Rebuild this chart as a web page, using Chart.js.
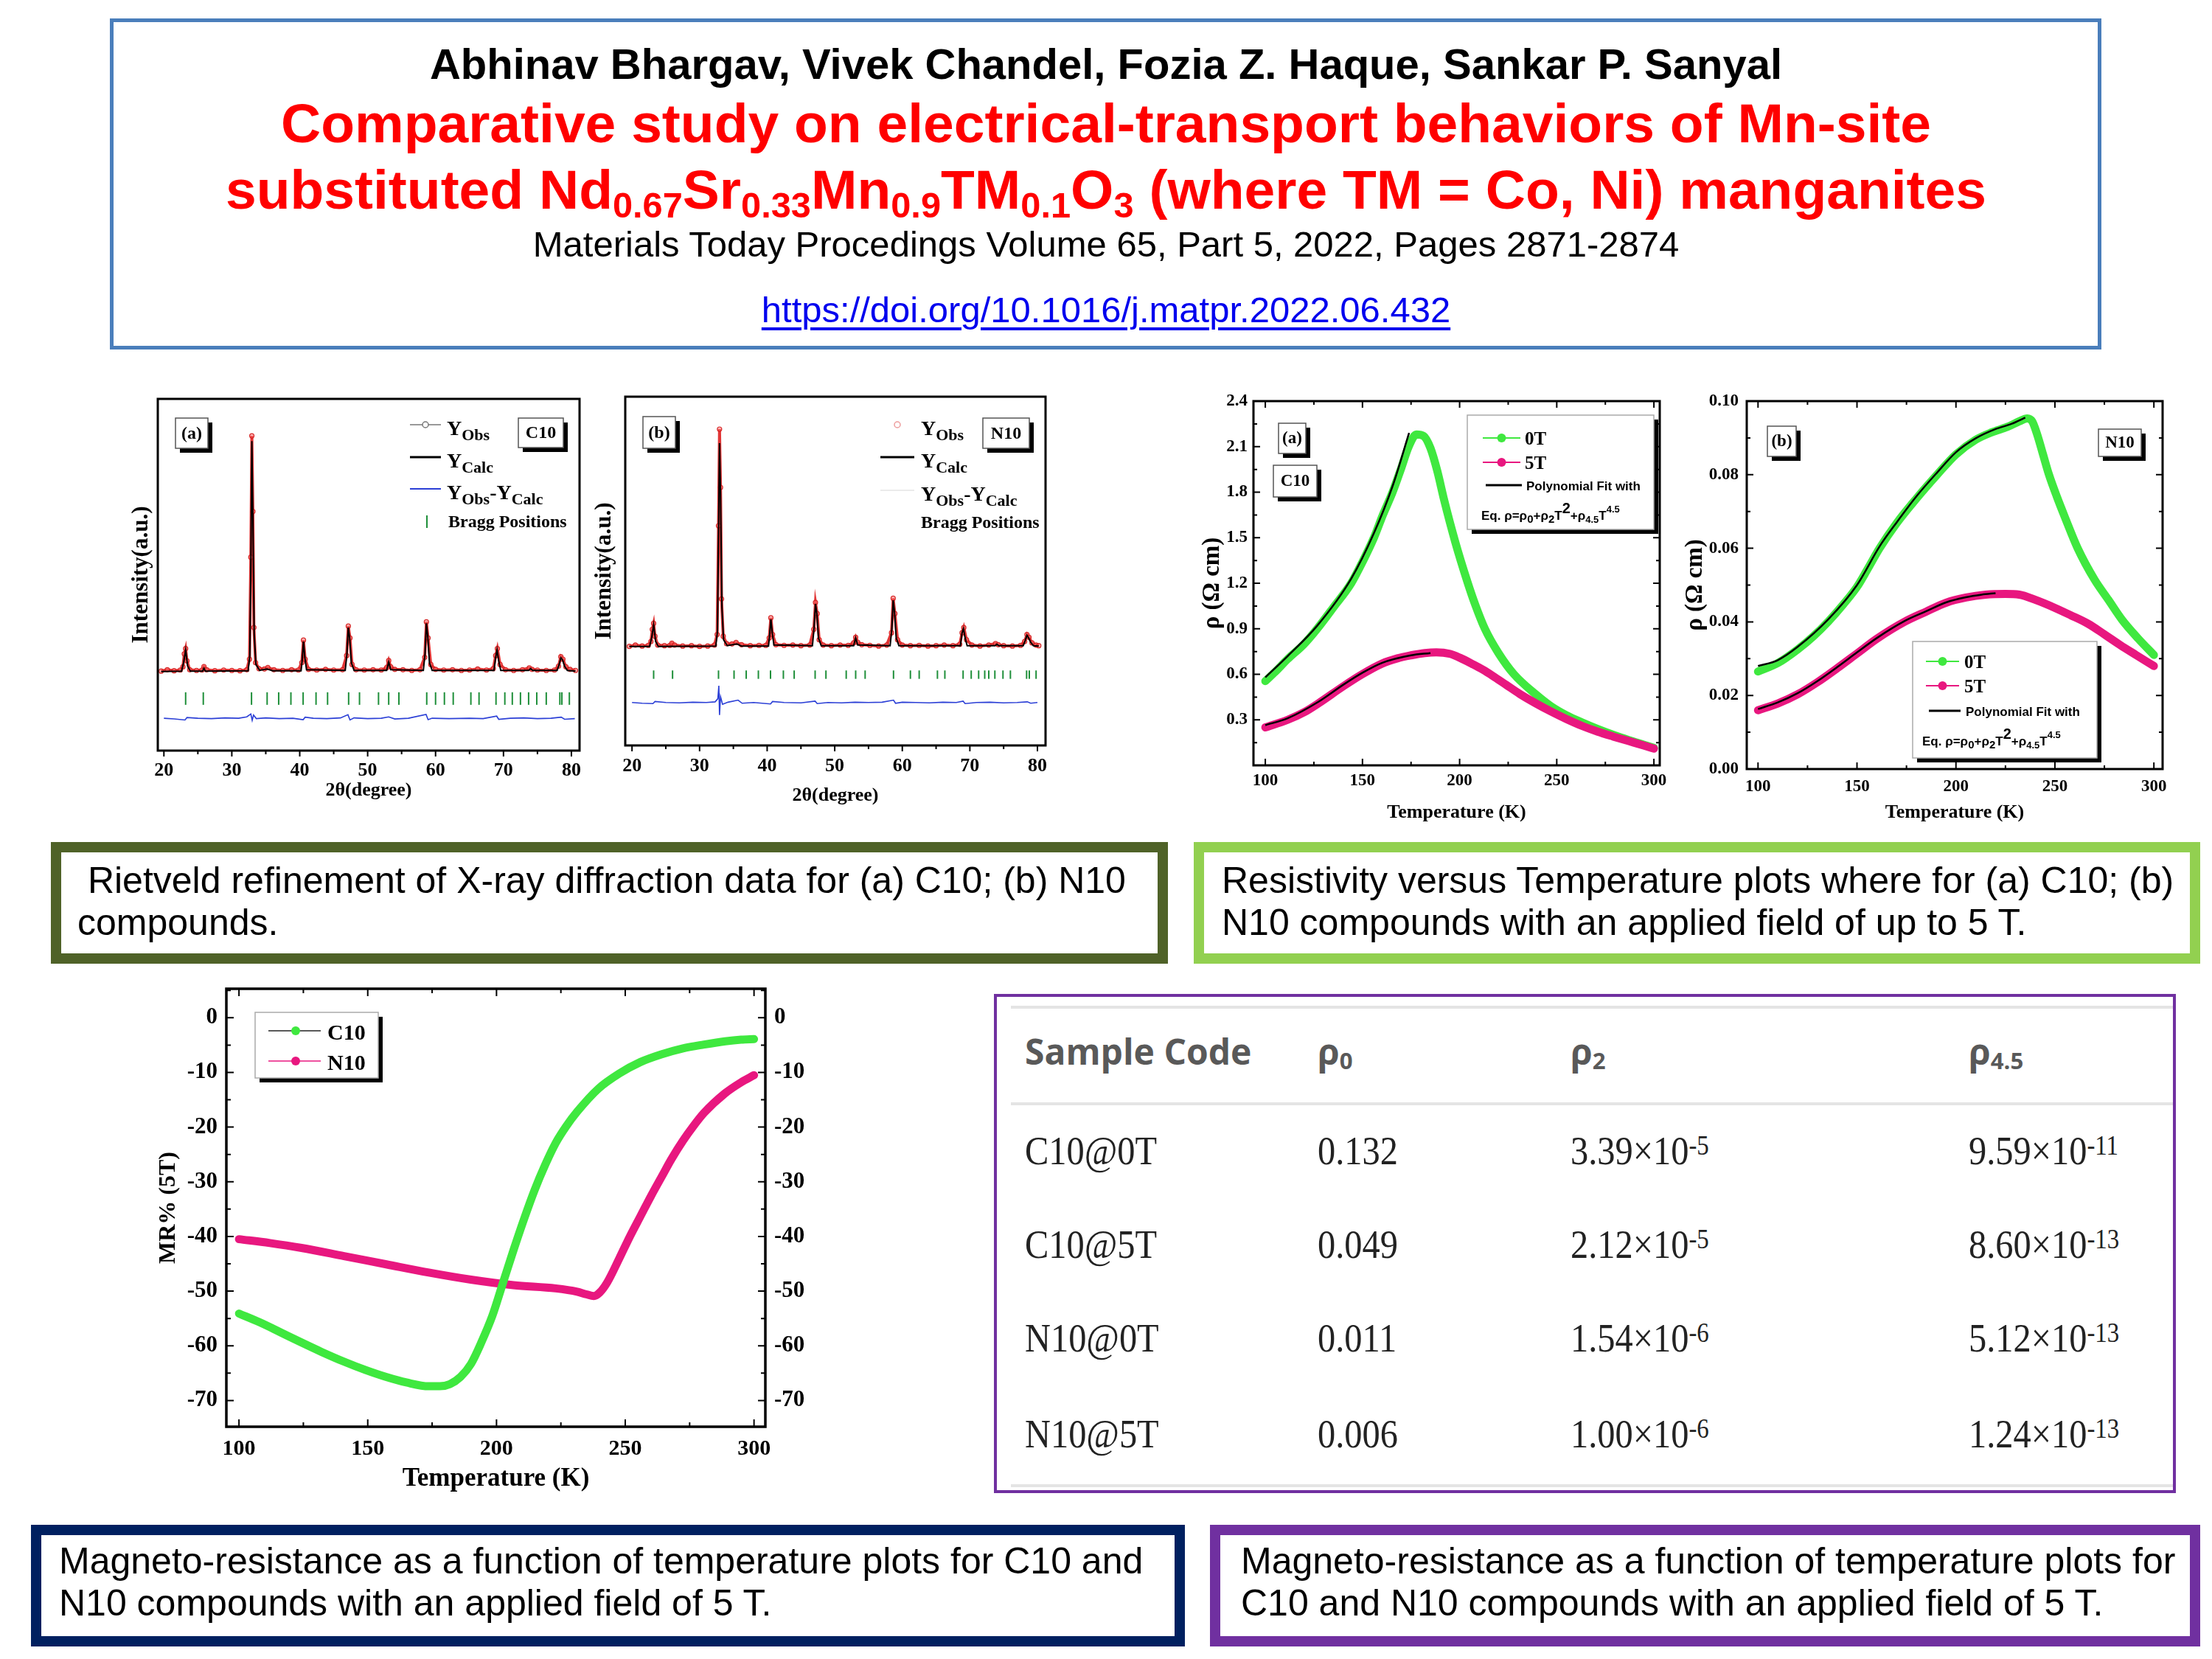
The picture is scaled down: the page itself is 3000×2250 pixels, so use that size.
<!DOCTYPE html>
<html>
<head>
<meta charset="utf-8">
<script src="https://cdn.jsdelivr.net/npm/chart.js@4.4.0/dist/chart.umd.min.js"></script>
<style>
  html, body { margin: 0; padding: 0; background: #fff; }
  #page { position: relative; width: 3000px; height: 2250px; overflow: hidden; font-family: 'Liberation Sans', Arial, sans-serif; }
  canvas { position: absolute; }
  .box { position: absolute; box-sizing: border-box; }
  .hl { position: absolute; left: 0; width: 3000px; text-align: center; line-height: 1; white-space: nowrap; }
  .hl sub { font-size: 0.65em; vertical-align: -0.25em; line-height: 0; }
  .cap { position: absolute; font-size: 50px; line-height: 57px; white-space: pre; color: #000; }
  .cell { position: absolute; line-height: 1; white-space: nowrap; transform-origin: 0 0; }
  .cell sup { font-size: 0.68em; vertical-align: 0.36em; line-height: 0; }
  .cell sub { font-size: 0.65em; vertical-align: -0.2em; line-height: 0; }
  .rule { position: absolute; height: 4px; background: #e4e4e4; }
</style>
</head>
<body>
<div id="page">
  <div class="box" style="left:149px;top:25px;width:2701px;height:449px;border:5px solid #4a7ebb;"></div>
  <div class="hl" style="top:58px;font-size:58px;font-weight:bold;color:#000;">Abhinav Bhargav, Vivek Chandel, Fozia Z. Haque, Sankar P. Sanyal</div>
  <div class="hl" style="top:130px;font-size:75px;font-weight:bold;color:#ff0000;">Comparative study on electrical-transport behaviors of Mn-site</div>
  <div class="hl" style="top:220px;font-size:75px;font-weight:bold;color:#ff0000;">substituted Nd<sub>0.67</sub>Sr<sub>0.33</sub>Mn<sub>0.9</sub>TM<sub>0.1</sub>O<sub>3</sub> (where TM = Co, Ni) manganites</div>
  <div class="hl" style="top:307px;font-size:49px;color:#000;">Materials Today Procedings Volume 65, Part 5, 2022, Pages 2871-2874</div>
  <div class="hl" style="top:396px;font-size:49px;color:#0000ee;"><span style="text-decoration:underline;text-decoration-thickness:4px;text-underline-offset:7px;">https://doi.org/10.1016/j.matpr.2022.06.432</span></div>

  <div class="box" style="left:69px;top:1142px;width:1515px;height:165px;border:14px solid #4f6228;"></div>
  <div class="cap" style="left:105px;top:1166px;"> Rietveld refinement of X-ray diffraction data for (a) C10; (b) N10
compounds.</div>
  <div class="box" style="left:1619px;top:1142px;width:1365px;height:165px;border:14px solid #92d050;"></div>
  <div class="cap" style="left:1657px;top:1166px;">Resistivity versus Temperature plots where for (a) C10; (b)
N10 compounds with an applied field of up to 5 T.</div>

  <div class="box" style="left:42px;top:2068px;width:1565px;height:165px;border:14px solid #002060;"></div>
  <div class="cap" style="left:80px;top:2089px;">Magneto-resistance as a function of temperature plots for C10 and
N10 compounds with an applied field of 5 T.</div>
  <div class="box" style="left:1641px;top:2068px;width:1343px;height:165px;border:14px solid #7030a0;"></div>
  <div class="cap" style="left:1683px;top:2089px;">Magneto-resistance as a function of temperature plots for
C10 and N10 compounds with an applied field of 5 T.</div>

  <div class="box" style="left:1348px;top:1348px;width:1603px;height:677px;border:4px solid #7030a0;"></div>
  <div class="rule" style="left:1371px;top:1364px;width:1576px;"></div>
  <div class="rule" style="left:1371px;top:1495px;width:1576px;"></div>
  <div class="rule" style="left:1371px;top:2013px;width:1576px;"></div>
</div>

<script>
/* ---------------- XRD / Rietveld data (2theta, intensity a.u.) ---------------- */
const xrdObsC10 = [[19.6,22.6],[20.5,23.0],[21.5,22.7],[22.4,22.9],[22.8,23.8],[23.0,27.5],[23.2,29.0],[23.4,25.5],[23.8,23.0],[24.8,22.8],[25.6,22.9],[25.9,23.9],[26.3,23.0],[27.5,22.7],[28.8,22.9],[30.0,22.8],[31.2,22.7],[32.2,23.0],[32.6,26.0],[32.8,55.0],[32.95,89.5],[33.1,68.0],[33.25,35.0],[33.5,25.0],[34.0,23.3],[34.8,23.2],[35.3,23.6],[36.2,23.0],[37.5,22.8],[38.8,23.0],[39.8,22.9],[40.3,25.0],[40.55,31.4],[40.8,26.0],[41.3,23.1],[42.5,22.9],[43.8,23.1],[45.0,22.9],[46.3,23.0],[46.9,27.0],[47.15,35.4],[47.4,32.0],[47.7,24.5],[48.3,23.0],[49.5,22.9],[50.8,23.0],[52.0,22.9],[52.8,23.6],[53.1,25.6],[53.4,23.8],[54.0,23.1],[55.2,23.0],[56.5,22.8],[57.7,23.0],[58.4,26.5],[58.65,36.6],[58.9,32.0],[59.3,24.5],[60.0,23.1],[61.2,22.9],[62.5,23.0],[63.8,22.8],[65.0,22.9],[66.2,23.2],[67.5,22.9],[68.5,23.3],[68.85,27.0],[69.1,29.0],[69.5,24.5],[70.3,23.0],[71.5,22.8],[72.8,23.0],[73.8,23.5],[74.2,23.1],[75.0,22.9],[76.3,22.8],[77.5,22.9],[78.1,24.0],[78.45,26.7],[78.75,26.0],[79.2,23.8],[79.8,23.1],[80.6,22.8]];
const xrdCalcC10 = [[19.6,22.5],[22.6,22.6],[22.9,25.0],[23.2,28.6],[23.5,24.0],[23.9,22.6],[25.7,22.6],[25.9,23.4],[26.1,22.6],[32.4,22.7],[32.65,27.0],[32.8,52.0],[32.95,88.0],[33.1,66.0],[33.3,33.0],[33.55,24.5],[34.1,22.8],[35.2,23.2],[36.0,22.7],[40.2,22.7],[40.35,25.5],[40.55,31.0],[40.75,26.5],[41.0,23.0],[46.7,22.8],[46.95,27.5],[47.15,35.0],[47.35,32.0],[47.6,25.0],[48.0,22.8],[52.8,22.8],[53.1,25.2],[53.4,23.0],[58.2,22.8],[58.45,27.5],[58.65,36.2],[58.85,32.5],[59.1,25.0],[59.5,22.8],[68.6,22.8],[68.85,26.5],[69.05,28.6],[69.3,25.5],[69.6,22.8],[73.7,22.8],[74.0,23.3],[74.3,22.8],[77.9,22.8],[78.2,24.5],[78.45,26.4],[78.7,25.8],[79.0,24.0],[79.4,22.8],[80.6,22.6]];
const xrdDiffC10 = [[20,9.2],[21.5,9.0],[23.1,8.7],[23.4,9.4],[25,9.2],[27,9.1],[29,9.3],[31,9.2],[32.2,9.6],[32.8,10.4],[33.0,8.6],[33.2,10.1],[33.6,9.1],[35,9.3],[37,9.1],[39,9.2],[40.5,8.8],[40.8,9.5],[42,9.2],[44,9.1],[46,9.3],[47.1,10.2],[47.4,8.7],[48,9.3],[50,9.1],[52,9.2],[53.1,9.6],[54,9.0],[56,9.2],[58.6,10.3],[58.9,8.8],[59.5,9.2],[62,9.1],[65,9.2],[67,9.1],[69.0,9.8],[69.3,8.9],[71,9.2],[73,9.3],[75,9.1],[77,9.2],[78.5,9.5],[79,8.9],[80.5,9.1]];
const braggC10 = [23.2,25.8,32.9,35.2,36.9,38.7,40.5,42.4,44.1,47.2,48.8,51.6,53.1,54.6,58.7,60.0,61.3,62.6,65.2,66.4,68.9,70.2,71.3,72.5,73.7,74.9,76.3,78.3,78.6,79.7];
const braggLevelC10 = 14.8;

const xrdObsN10 = [[19.6,28.4],[20.5,28.8],[21.5,28.5],[22.4,28.7],[22.8,29.8],[23.0,33.3],[23.2,35.0],[23.4,31.3],[23.8,28.8],[24.8,28.6],[25.6,28.7],[25.9,29.3],[26.3,28.8],[27.5,28.5],[28.8,28.6],[30.0,28.4],[31.2,28.5],[32.2,28.8],[32.6,31.8],[32.8,63.0],[32.95,90.7],[33.1,74.0],[33.25,42.0],[33.5,31.3],[34.0,29.2],[34.8,29.1],[35.4,29.5],[36.2,28.9],[37.5,28.6],[38.8,28.7],[39.8,28.7],[40.3,30.8],[40.55,36.6],[40.8,31.8],[41.3,28.9],[42.5,28.7],[43.8,28.8],[45.0,28.6],[46.3,28.8],[46.9,33.3],[47.15,41.0],[47.4,37.8],[47.7,30.3],[48.3,28.8],[49.5,28.6],[50.8,28.8],[52.0,28.7],[52.8,29.4],[53.1,31.0],[53.4,29.6],[54.0,28.9],[55.2,28.7],[56.5,28.5],[57.7,28.8],[58.4,32.3],[58.65,42.2],[58.9,37.8],[59.3,30.3],[60.0,28.8],[61.2,28.6],[62.5,28.7],[63.8,28.5],[65.0,28.6],[66.2,28.8],[67.5,28.6],[68.5,29.0],[68.85,32.3],[69.1,33.8],[69.5,30.3],[70.3,28.8],[71.5,28.5],[72.8,28.8],[73.8,29.2],[74.2,28.9],[75.0,28.6],[76.3,28.5],[77.5,28.7],[78.1,29.8],[78.45,31.8],[78.75,31.0],[79.2,29.4],[79.8,28.8],[80.2,28.6]];
const xrdCalcN10 = [[19.6,28.4],[22.6,28.4],[22.9,30.8],[23.2,34.6],[23.5,29.8],[23.9,28.4],[32.4,28.5],[32.65,32.8],[32.8,59.8],[32.95,86.7],[33.1,71.8],[33.3,39.8],[33.55,30.3],[34.1,28.6],[35.5,29.1],[36.2,28.5],[40.2,28.5],[40.35,31.3],[40.55,36.2],[40.75,32.3],[41.0,28.8],[46.7,28.6],[46.95,33.8],[47.15,40.6],[47.35,37.8],[47.6,30.8],[48.0,28.6],[52.8,28.6],[53.1,30.8],[53.4,28.8],[58.2,28.6],[58.45,33.3],[58.65,41.6],[58.85,38.3],[59.1,30.8],[59.5,28.6],[68.6,28.6],[68.85,32.3],[69.05,33.5],[69.3,30.8],[69.6,28.6],[73.7,28.6],[74.0,29.0],[74.3,28.6],[77.9,28.6],[78.2,30.1],[78.45,31.6],[78.7,30.8],[79.0,29.6],[79.4,28.6],[80.2,28.5]];
const xrdDiffN10 = [[20,12.3],[21.5,12.1],[23.1,12.0],[23.4,12.6],[25,12.3],[27,12.2],[29,12.4],[31,12.3],[32.3,12.5],[32.7,13.4],[32.85,17.1],[32.95,8.75],[33.1,14.0],[33.4,11.8],[34.2,12.4],[35.7,13.0],[36.3,12.1],[38,12.3],[40.5,11.9],[40.8,12.6],[42.5,12.3],[45,12.2],[47.1,12.7],[47.4,12.0],[49,12.3],[51,12.2],[53,12.4],[55,12.3],[57,12.4],[58.7,13.0],[59,12.1],[60,12.4],[62,12.3],[64,12.2],[66,12.4],[68,12.3],[69,12.7],[69.3,12.0],[71,12.3],[73,12.4],[75,12.2],[77,12.3],[78.5,12.5],[79,12.1],[80,12.3]];
const braggN10 = [23.2,26.0,32.8,35.1,36.9,38.7,40.5,42.4,44.0,47.1,48.7,51.7,53.1,54.5,58.7,61.2,62.5,65.2,66.3,69.0,70.2,71.3,72.2,72.8,73.7,74.9,76.0,78.4,78.8,79.8];
const braggLevelN10 = 20.3;
const xrdTicks = [20, 30, 40, 50, 60, 70, 80];

/* ---------------- Resistivity (T in K, rho in ohm cm) ---------------- */
const rhoC10_0T = [[100,0.555],[105,0.615],[111.5,0.70],[120,0.80],[126.7,0.90],[135,1.04],[144.2,1.20],[150,1.34],[155.9,1.50],[160.5,1.65],[165.5,1.80],[170,1.96],[173.8,2.10],[177.8,2.18],[181.5,2.17],[185,2.09],[188.5,1.94],[192,1.75],[197.8,1.47],[204,1.21],[208,1.06],[213,0.90],[220,0.74],[228,0.60],[239,0.47],[247,0.39],[255,0.33],[263,0.283],[271,0.24],[280,0.197],[287,0.167],[295,0.135],[300,0.115]];
const rhoC10_5T = [[100,0.25],[111.5,0.30],[120,0.35],[127.5,0.41],[140,0.52],[149.8,0.60],[160,0.67],[168,0.705],[175,0.725],[182,0.74],[188,0.745],[195,0.735],[200,0.71],[207,0.665],[212,0.63],[217,0.59],[224,0.53],[231,0.47],[239,0.41],[247,0.355],[255,0.305],[263,0.26],[271,0.222],[279,0.19],[287,0.16],[295,0.13],[300,0.11]];
const fitC10_0T = [[100,0.58],[111.5,0.72],[126.7,0.92],[144.2,1.23],[155.9,1.53],[165.5,1.84],[174,2.19]];
const fitC10_5T = [[100,0.265],[111.5,0.31],[127.5,0.42],[140,0.53],[150,0.61],[160,0.675],[175,0.725],[185,0.74]];

const rhoN10_0T = [[100,0.0265],[110,0.0288],[120,0.0325],[128,0.0361],[135.5,0.0401],[143,0.0447],[150,0.0495],[155,0.054],[161.4,0.0600],[170,0.0668],[180,0.0735],[190.5,0.0800],[200,0.0855],[210,0.0895],[218,0.0915],[226,0.093],[232,0.0945],[236,0.0953],[238.5,0.0945],[241,0.091],[244,0.0855],[247,0.080],[251,0.074],[255,0.0685],[261.5,0.060],[270,0.0515],[277,0.046],[284,0.0405],[292,0.0355],[300,0.031]];
const rhoN10_5T = [[100,0.016],[110,0.0178],[120,0.0203],[130,0.0236],[140,0.0274],[150,0.0314],[160,0.0354],[174.3,0.0401],[185,0.0428],[195,0.0452],[205,0.0466],[215,0.0474],[225,0.0476],[232,0.0474],[240,0.046],[250,0.0438],[258,0.0418],[266.7,0.0395],[275,0.0366],[283,0.0337],[291,0.031],[300,0.028]];
const fitN10_0T = [[100,0.028],[110,0.0296],[120,0.0332],[135.5,0.0407],[150,0.0500],[161.4,0.0605],[170,0.0670],[180,0.0741],[190.5,0.0806],[200,0.0861],[210,0.0899],[220,0.0924],[228,0.0938],[235,0.0955]];
const fitN10_5T = [[100,0.0163],[110,0.0181],[120,0.0206],[130,0.0239],[140,0.0277],[150,0.0317],[160,0.0356],[174.3,0.0403],[185,0.0429],[195,0.0453],[205,0.0467],[213,0.0474],[220,0.0478]];
const tempTicks = [100, 150, 200, 250, 300];
const rhoC10Ticks = [0, 0.3, 0.6, 0.9, 1.2, 1.5, 1.8, 2.1, 2.4];
const rhoN10Ticks = [0, 0.02, 0.04, 0.06, 0.08, 0.10];

/* ---------------- Magnetoresistance MR% at 5 T ---------------- */
const mrC10 = [[100,-54.1],[108,-55.7],[116,-57.5],[124.3,-59.4],[132,-61.1],[140.8,-62.9],[149,-64.4],[157.2,-65.7],[165,-66.7],[173.7,-67.4],[178,-67.4],[181.9,-67.0],[186,-65.7],[190.1,-63.3],[194,-59.5],[198.4,-54.5],[202.5,-48.5],[206.6,-42.5],[210.7,-36.8],[214.8,-31.5],[219,-26.8],[223,-22.9],[227,-19.9],[231.3,-17.2],[239.5,-13.0],[247.7,-10.2],[255.9,-8.1],[264,-6.7],[272.4,-5.6],[280.6,-4.9],[288.8,-4.3],[295,-4.0],[300,-3.9]];
const mrN10 = [[100,-40.5],[112,-41.2],[124.3,-42.1],[140.8,-43.6],[157.2,-45.1],[173.7,-46.6],[190.1,-47.9],[206.6,-48.9],[223,-49.5],[231.3,-50.1],[235,-50.6],[237.8,-50.9],[240,-50.3],[243,-48.4],[247.7,-44.0],[251.8,-40.0],[255.9,-36.3],[260,-32.6],[264.1,-29.1],[268,-25.8],[272.4,-22.5],[276.5,-19.8],[280.6,-17.4],[288.8,-13.8],[295,-11.8],[300,-10.5]];
const mrTicks = [-70, -60, -50, -40, -30, -20, -10, 0];

/* ---------------- Fit parameter table ---------------- */
const tableHeads = [['Sample Code', ''], ['\u03c1', '0'], ['\u03c1', '2'], ['\u03c1', '4.5']];
const sampleCodes = ['C10@0T', 'C10@5T', 'N10@0T', 'N10@5T'];
const rho0 = ['0.132', '0.049', '0.011', '0.006'];
const rho2 = [[3.39, -5], [2.12, -5], [1.54, -6], [1.00, -6]];
const rho45 = [[9.59, -11], [8.60, -13], [5.12, -13], [1.24, -13]];

/* ---------------- helpers ---------------- */
const SERIF = "'Liberation Serif', 'Times New Roman', serif";
const SANS = "'Liberation Sans', Arial, sans-serif";
const GREEN = '#3fe83f';
const PINK = '#e8177f';
const page = document.getElementById('page');
const specs = new Map();

Chart.defaults.font.family = SERIF;
Chart.defaults.font.weight = 'bold';
Chart.defaults.color = '#000';

const xy = pairs => pairs.map(([x, y]) => ({x, y}));

function fix(prop, v) {
  return s => {
    s[prop] = v;
    s.paddingLeft = 0; s.paddingRight = 0; s.paddingTop = 0; s.paddingBottom = 0;
  };
}
const useTicks = arr => s => { s.ticks = arr.map(value => ({value})); };

function rich(ctx, x, y, runs, family) {
  for (const [t, size, dy = 0] of runs) {
    ctx.font = `bold ${size}px ${family}`;
    ctx.fillText(t, x, y + dy);
    x += ctx.measureText(t).width;
  }
}

// frame + inward/outward major and minor ticks
const axisFrame = {
  id: 'axisFrame',
  afterDatasetsDraw(chart) {
    const o = (specs.get(chart.canvas) || {}).frame;
    if (!o) return;
    const {ctx, chartArea: a} = chart;
    const marks = s => {
      const major = s.ticks.map(t => t.value);
      const step = major[1] - major[0];
      const out = major.map(v => [v, o.major]);
      for (let i = -1; i < major.length; i++) {
        const v = major[0] + (i + 0.5) * step;
        if (v >= s.min && v <= s.max) out.push([v, o.minor]);
      }
      return out;
    };
    const dir = o.inward ? 1 : -1;
    ctx.save();
    ctx.strokeStyle = '#000';
    ctx.lineWidth = o.tw;
    ctx.beginPath();
    marks(chart.scales.x).forEach(([v, len]) => {
      const p = chart.scales.x.getPixelForValue(v);
      if (o.x.includes('bottom')) { ctx.moveTo(p, a.bottom); ctx.lineTo(p, a.bottom - dir * len); }
      if (o.x.includes('top')) { ctx.moveTo(p, a.top); ctx.lineTo(p, a.top + dir * len); }
    });
    if (o.y.length) marks(chart.scales.y).forEach(([v, len]) => {
      const p = chart.scales.y.getPixelForValue(v);
      if (o.y.includes('left')) { ctx.moveTo(a.left, p); ctx.lineTo(a.left + dir * len, p); }
      if (o.y.includes('right')) { ctx.moveTo(a.right, p); ctx.lineTo(a.right - dir * len, p); }
    });
    ctx.stroke();
    ctx.lineWidth = o.lw;
    ctx.strokeRect(a.left, a.top, a.right - a.left, a.bottom - a.top);
    ctx.restore();
  }
};

// legend boxes, panel tags and rich legend text (page coordinates)
const deco = {
  id: 'deco',
  afterDraw(chart) {
    const spec = specs.get(chart.canvas);
    if (!spec || !spec.deco) return;
    const ctx = chart.ctx;
    ctx.save();
    ctx.translate(-spec.box.x, -spec.box.y);
    ctx.textAlign = 'left';
    ctx.textBaseline = 'alphabetic';
    for (const it of spec.deco) {
      if (it.k === 'tag' || it.k === 'panel') {
        ctx.fillStyle = '#000';
        ctx.fillRect(it.x + 6, it.y + 6, it.w, it.h);
        ctx.fillStyle = '#fff';
        ctx.fillRect(it.x, it.y, it.w, it.h);
        ctx.strokeStyle = it.k === 'tag' ? '#555' : '#aaa';
        ctx.lineWidth = 1.5;
        ctx.strokeRect(it.x, it.y, it.w, it.h);
        if (it.text) {
          ctx.fillStyle = '#000';
          ctx.font = `bold ${it.size}px ${SERIF}`;
          ctx.textAlign = 'center';
          ctx.textBaseline = 'middle';
          ctx.fillText(it.text, it.x + it.w / 2, it.y + it.h / 2 + 1);
          ctx.textAlign = 'left';
          ctx.textBaseline = 'alphabetic';
        }
      } else if (it.k === 'line') {
        ctx.strokeStyle = it.c;
        ctx.lineWidth = it.lw;
        ctx.beginPath();
        ctx.moveTo(it.x1, it.y1);
        ctx.lineTo(it.x2, it.y2);
        ctx.stroke();
      } else if (it.k === 'dot') {
        ctx.beginPath();
        ctx.arc(it.x, it.y, it.r, 0, Math.PI * 2);
        if (it.fill) { ctx.fillStyle = it.fill; ctx.fill(); }
        if (it.stroke) { ctx.strokeStyle = it.stroke; ctx.lineWidth = 1.5; ctx.stroke(); }
      } else if (it.k === 'text') {
        ctx.fillStyle = it.c || '#000';
        rich(ctx, it.x, it.y, it.runs, it.f || SERIF);
      }
    }
    ctx.restore();
  }
};

Chart.register(axisFrame, deco);

function panelChart(box, area, spec) {
  const cv = document.createElement('canvas');
  cv.width = box.w;
  cv.height = box.h;
  cv.style.left = box.x + 'px';
  cv.style.top = box.y + 'px';
  page.appendChild(cv);
  specs.set(cv, {box, frame: spec.frame, deco: spec.deco});

  const X = spec.x, Y = spec.y;
  const scales = {
    x: {
      type: 'linear', min: X.min, max: X.max,
      grid: {display: false, drawTicks: false}, border: {display: false},
      afterBuildTicks: useTicks(X.ticks),
      ticks: {
        autoSkip: false, maxRotation: 0, minRotation: 0,
        padding: X.labelY - area.b - 0.6 * X.size, font: {size: X.size}, color: '#000',
        callback: v => String(v)
      },
      title: {
        display: true, text: X.title, color: '#000', font: {size: X.tsize},
        padding: {top: 0, bottom: box.y + box.h - X.titleY - 0.6 * X.tsize}
      },
      afterFit: fix('height', box.y + box.h - area.b)
    },
    y: {
      type: 'linear', min: Y.min, max: Y.max,
      grid: {display: false, drawTicks: false}, border: {display: false},
      afterBuildTicks: useTicks(Y.ticks),
      ticks: {
        display: !!Y.fmt, autoSkip: false,
        padding: Y.fmt ? area.l - Y.labelR : 0, font: {size: Y.size || 12}, color: '#000',
        callback: Y.fmt || (v => '')
      },
      title: {
        display: true, text: Y.title, color: '#000', font: {size: Y.tsize},
        padding: {top: Y.titleX - box.x - 0.6 * Y.tsize, bottom: 0}
      },
      afterFit: fix('width', area.l - box.x)
    }
  };
  if (spec.y2) {
    scales.y2 = {
      type: 'linear', position: 'right', min: Y.min, max: Y.max,
      grid: {display: false, drawTicks: false}, border: {display: false},
      afterBuildTicks: useTicks(Y.ticks),
      ticks: {
        autoSkip: false,
        padding: spec.y2.labelL - area.r, font: {size: Y.size}, color: '#000', callback: Y.fmt
      },
      afterFit: fix('width', box.x + box.w - area.r)
    };
  }
  return new Chart(cv, {
    type: 'line',
    data: {datasets: spec.datasets},
    options: {
      responsive: false,
      animation: false,
      events: [],
      layout: {padding: {left: 0, top: area.t - box.y, right: spec.y2 ? 0 : box.x + box.w - area.r, bottom: 0}},
      scales,
      plugins: {legend: {display: false}, tooltip: {enabled: false}}
    }
  });
}

/* ---------------- XRD charts ---------------- */
function xrdSets(obs, calc, diff, bragg, level, tickR, diffColor) {
  return [
    {data: xy(calc), borderColor: '#000', borderWidth: 2, pointRadius: 0, tension: 0},
    {data: xy(obs), borderColor: 'rgba(222,32,32,0.9)', borderWidth: 4, pointRadius: 3,
     pointBorderColor: 'rgba(210,25,25,0.9)', pointBackgroundColor: 'rgba(255,110,110,0.5)', pointBorderWidth: 1.2, tension: 0},
    {data: bragg.map(x => ({x, y: level})), showLine: false, pointStyle: 'line', rotation: 90,
     pointRadius: tickR, borderColor: '#1f8f3a', pointBorderColor: '#1f8f3a', pointBorderWidth: 2},
    {data: xy(diff), borderColor: diffColor, borderWidth: 1.6, pointRadius: 0, tension: 0}
  ];
}
const xrdFrame = {lw: 3, tw: 2, major: 8, minor: 5, inward: false, x: ['bottom'], y: []};
const yLab = (sub1, sub2) => sub2
  ? [['Y', 28], [sub1, 22, 7], ['-', 28], ['Y', 28], [sub2, 22, 7]]
  : [['Y', 28], [sub1, 22, 7]];

panelChart({x: 140, y: 525, w: 670, h: 575}, {l: 214, t: 541, r: 786, b: 1018}, {
  x: {min: 19.1, max: 81.2, ticks: xrdTicks, size: 26, labelY: 1045, title: '2\u03b8(degree)', tsize: 26, titleY: 1072},
  y: {min: 0, max: 100, ticks: [0, 50, 100], title: 'Intensity(a.u.)', tsize: 31, titleX: 192},
  frame: xrdFrame,
  datasets: xrdSets(xrdObsC10, xrdCalcC10, xrdDiffC10, braggC10, braggLevelC10, 8.5, '#2b3fd6'),
  deco: [
    {k: 'tag', x: 238, y: 567, w: 44, h: 41, text: '(a)', size: 24},
    {k: 'tag', x: 703, y: 567, w: 61, h: 40, text: 'C10', size: 24},
    {k: 'line', x1: 556, y1: 576, x2: 598, y2: 576, c: '#777', lw: 1.5},
    {k: 'dot', x: 577, y: 576, r: 4, fill: '#fff', stroke: '#777'},
    {k: 'text', x: 606, y: 590, runs: yLab('Obs')},
    {k: 'line', x1: 556, y1: 620, x2: 598, y2: 620, c: '#000', lw: 3},
    {k: 'text', x: 606, y: 634, runs: yLab('Calc')},
    {k: 'line', x1: 556, y1: 663, x2: 598, y2: 663, c: '#2b3fd6', lw: 2},
    {k: 'text', x: 606, y: 677, runs: yLab('Obs', 'Calc')},
    {k: 'line', x1: 579, y1: 699, x2: 579, y2: 716, c: '#1f8f3a', lw: 2},
    {k: 'text', x: 608, y: 715, runs: [['Bragg Positions', 24]]}
  ]
});

panelChart({x: 770, y: 525, w: 670, h: 575}, {l: 848, t: 538, r: 1418, b: 1011}, {
  x: {min: 19.0, max: 81.2, ticks: xrdTicks, size: 26, labelY: 1039, title: '2\u03b8(degree)', tsize: 26, titleY: 1079},
  y: {min: 0, max: 100, ticks: [0, 50, 100], title: 'Intensity(a.u.)', tsize: 31, titleX: 820},
  frame: xrdFrame,
  datasets: xrdSets(xrdObsN10, xrdCalcN10, xrdDiffN10, braggN10, braggLevelN10, 5.7, '#2b3fd6'),
  deco: [
    {k: 'tag', x: 872, y: 565, w: 44, h: 43, text: '(b)', size: 24},
    {k: 'tag', x: 1333, y: 567, w: 63, h: 41, text: 'N10', size: 24},
    {k: 'dot', x: 1217, y: 576, r: 4, stroke: 'rgba(225,90,90,0.6)'},
    {k: 'text', x: 1249, y: 590, runs: yLab('Obs')},
    {k: 'line', x1: 1194, y1: 620, x2: 1240, y2: 620, c: '#000', lw: 3},
    {k: 'text', x: 1249, y: 634, runs: yLab('Calc')},
    {k: 'line', x1: 1194, y1: 665, x2: 1240, y2: 665, c: '#e4e4e4', lw: 1.5},
    {k: 'text', x: 1249, y: 679, runs: yLab('Obs', 'Calc')},
    {k: 'text', x: 1249, y: 716, runs: [['Bragg Positions', 24]]}
  ]
});

/* ---------------- Resistivity charts ---------------- */
const bandLine = (data, color) => ({
  data: xy(data), borderColor: color, borderWidth: 11, pointRadius: 0,
  borderCapStyle: 'round', borderJoinStyle: 'round', cubicInterpolationMode: 'monotone'
});
const fitLine = data => ({data: xy(data), borderColor: '#000', borderWidth: 2.5, pointRadius: 0, cubicInterpolationMode: 'monotone'});
const rhoFrame = {lw: 3, tw: 2, major: 9, minor: 5, inward: true, x: ['bottom', 'top'], y: ['left', 'right']};
const eqRuns = [['Eq. \u03c1=\u03c1', 17], ['0', 15, 4], ['+\u03c1', 17], ['2', 15, 4], ['T', 17], ['2', 20, -9],
                ['+\u03c1', 17], ['4.5', 13, 4], ['T', 17], ['4.5', 13, -10]];
function rhoLegend(px, py, pw, ph, sx1, sx2, tx, rows, fitX, eqX, eqY) {
  return [
    {k: 'panel', x: px, y: py, w: pw, h: ph},
    {k: 'line', x1: sx1, y1: rows[0], x2: sx2, y2: rows[0], c: GREEN, lw: 2},
    {k: 'dot', x: (sx1 + sx2) / 2, y: rows[0], r: 6, fill: GREEN},
    {k: 'text', x: tx, y: rows[0] + 9, runs: [['0T', 25]]},
    {k: 'line', x1: sx1, y1: rows[1], x2: sx2, y2: rows[1], c: PINK, lw: 2},
    {k: 'dot', x: (sx1 + sx2) / 2, y: rows[1], r: 6, fill: PINK},
    {k: 'text', x: tx, y: rows[1] + 9, runs: [['5T', 25]]},
    {k: 'line', x1: sx1 + 4, y1: rows[2], x2: sx2 + 2, y2: rows[2], c: '#000', lw: 3},
    {k: 'text', x: fitX, y: rows[2] + 7, f: SANS, runs: [['Polynomial Fit with', 17]]},
    {k: 'text', x: eqX, y: eqY, f: SANS, runs: eqRuns}
  ];
}

panelChart({x: 1600, y: 525, w: 680, h: 600}, {l: 1700, t: 544, r: 2251, b: 1038}, {
  x: {min: 93.9, max: 303, ticks: tempTicks, size: 23, labelY: 1059, title: 'Temperature (K)', tsize: 26, titleY: 1102},
  y: {min: 0, max: 2.4, ticks: rhoC10Ticks, size: 23, labelR: 1692, fmt: v => (v === 0 ? '' : v.toFixed(1)),
      title: '\u03c1 (\u03a9 cm)', tsize: 33, titleX: 1644},
  frame: rhoFrame,
  datasets: [fitLine(fitC10_0T), fitLine(fitC10_5T), bandLine(rhoC10_5T, PINK), bandLine(rhoC10_0T, GREEN)],
  deco: [
    {k: 'tag', x: 1734, y: 574, w: 37, h: 41, text: '(a)', size: 23},
    {k: 'tag', x: 1727, y: 631, w: 59, h: 43, text: 'C10', size: 23},
    ...rhoLegend(1990, 563, 253, 155, 2011, 2062, 2068, [594, 627, 658], 2070, 2009, 705)
  ]
});

panelChart({x: 2270, y: 525, w: 700, h: 600}, {l: 2369, t: 544, r: 2933, b: 1043}, {
  x: {min: 94.3, max: 304.4, ticks: tempTicks, size: 23, labelY: 1067, title: 'Temperature (K)', tsize: 26, titleY: 1102},
  y: {min: 0, max: 0.1, ticks: rhoN10Ticks, size: 23, labelR: 2358, fmt: v => v.toFixed(2),
      title: '\u03c1 (\u03a9 cm)', tsize: 33, titleX: 2299},
  frame: rhoFrame,
  datasets: [fitLine(fitN10_0T), fitLine(fitN10_5T), bandLine(rhoN10_5T, PINK), bandLine(rhoN10_0T, GREEN)],
  deco: [
    {k: 'tag', x: 2397, y: 578, w: 39, h: 41, text: '(b)', size: 23},
    {k: 'tag', x: 2846, y: 582, w: 58, h: 37, text: 'N10', size: 23},
    ...rhoLegend(2594, 870, 250, 158, 2612, 2657, 2664, [897, 930, 964], 2666, 2607, 1011)
  ]
});

/* ---------------- MR chart ---------------- */
panelChart({x: 180, y: 1325, w: 940, h: 720}, {l: 307, t: 1341, r: 1038, b: 1935}, {
  x: {min: 95.1, max: 304.4, ticks: tempTicks, size: 30, labelY: 1965, title: 'Temperature (K)', tsize: 35, titleY: 2006},
  y: {min: -74.8, max: 5.3, ticks: mrTicks, size: 31, labelR: 295, fmt: v => String(v), title: 'MR% (5T)', tsize: 32, titleX: 229},
  y2: {labelL: 1050},
  frame: {lw: 3.5, tw: 2, major: 10, minor: 6, inward: true, x: ['bottom', 'top'], y: ['left', 'right']},
  datasets: [bandLine(mrC10, GREEN), bandLine(mrN10, PINK)],
  deco: [
    {k: 'panel', x: 346, y: 1373, w: 167, h: 89},
    {k: 'line', x1: 364, y1: 1398, x2: 435, y2: 1398, c: '#222', lw: 1.5},
    {k: 'dot', x: 401, y: 1398, r: 6, fill: GREEN},
    {k: 'text', x: 444, y: 1410, runs: [['C10', 30]]},
    {k: 'line', x1: 364, y1: 1439, x2: 435, y2: 1439, c: PINK, lw: 1.5},
    {k: 'dot', x: 401, y: 1439, r: 6, fill: PINK},
    {k: 'text', x: 444, y: 1451, runs: [['N10', 30]]}
  ]
});

/* ---------------- table ---------------- */
const colX = [1390, 1787, 2130, 2670];
const headBase = 1445;
const rowBase = [1579, 1706, 1833, 1963];
function cell(x, base, html, style, size, asc) {
  const d = document.createElement('div');
  d.className = 'cell';
  d.style.cssText += `left:${x}px;top:${base - asc * size}px;font-size:${size}px;` + style;
  d.innerHTML = html;
  page.appendChild(d);
}
const headStyle = "font-family:'Open Sans',sans-serif;font-weight:bold;color:#595959;";
tableHeads.forEach(([t, s], i) => {
  cell(colX[i], headBase, s ? `${t}<sub>${s}</sub>` : t, headStyle, 48, 0.888);
});
const rowStyle = `font-family:${SERIF.replace(/"/g, '')};color:#222;transform:scaleX(0.88);`;
const sci = ([m, e]) => `${m.toFixed(2)}\u00d710<sup>${e}</sup>`;
sampleCodes.forEach((code, r) => {
  cell(colX[0], rowBase[r], code, rowStyle, 55, 0.8375);
  cell(colX[1], rowBase[r], rho0[r], rowStyle, 55, 0.8375);
  cell(colX[2], rowBase[r], sci(rho2[r]), rowStyle, 55, 0.8375);
  cell(colX[3], rowBase[r], sci(rho45[r]), rowStyle, 55, 0.8375);
});
</script>
</body>
</html>
